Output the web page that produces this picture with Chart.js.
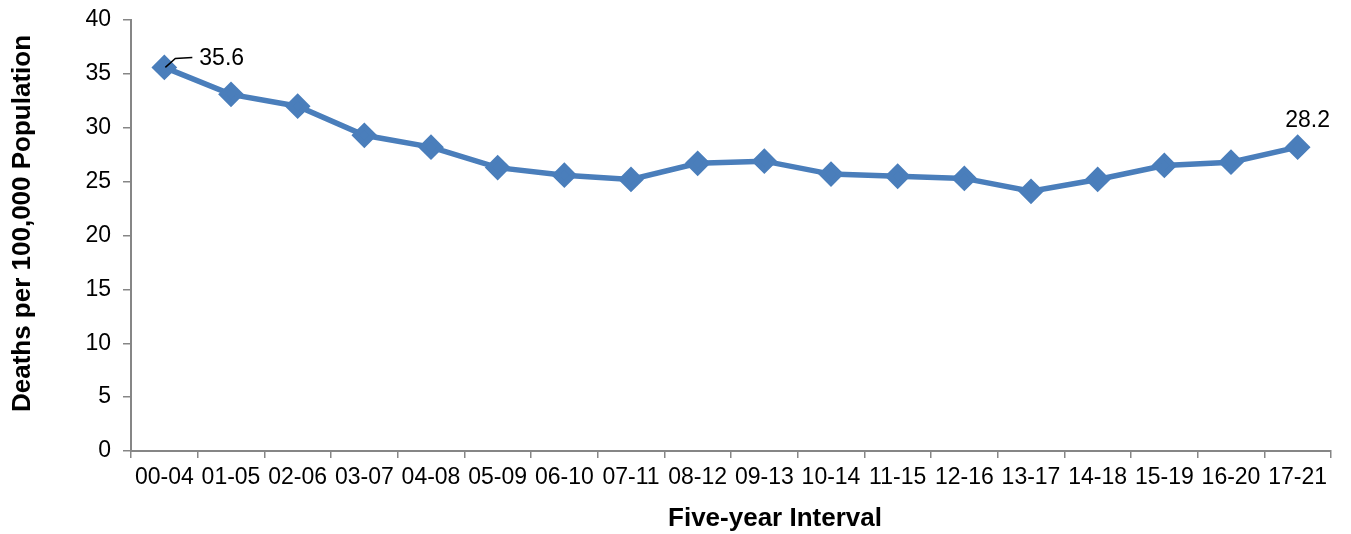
<!DOCTYPE html>
<html>
<head>
<meta charset="utf-8">
<script src="https://cdn.jsdelivr.net/npm/chart.js@4.4.1/dist/chart.umd.min.js"></script>
<style>
  html, body { margin: 0; padding: 0; background: #fff; }
  #wrap { width: 1351px; height: 534px; position: relative; }
</style>
</head>
<body>
<div id="wrap"><canvas id="chart"></canvas></div>
<script>
// data
const intervals = ["00-04", "01-05", "02-06", "03-07", "04-08", "05-09", "06-10", "07-11", "08-12",
  "09-13", "10-14", "11-15", "12-16", "13-17", "14-18", "15-19", "16-20", "17-21"];
const deathRates = [35.6, 33.1, 32.0, 29.3, 28.2, 26.3, 25.6, 25.2, 26.7,
  26.9, 25.7, 25.5, 25.3, 24.1, 25.2, 26.5, 26.8, 28.2];
const yTicks = [0, 5, 10, 15, 20, 25, 30, 35, 40];
const xTitle = "Five-year Interval";
const yTitle = "Deaths per 100,000 Population";

const FONT = "'Liberation Sans', Arial, sans-serif";
const AXIS_GREY = "#868686";

// value labels on first / last point + axis titles
const chartText = {
  id: "chartText",
  afterDatasetsDraw(chart) {
    const pts = chart.getDatasetMeta(0).data;
    const ctx = chart.ctx;
    const first = pts[0], last = pts[pts.length - 1];
    ctx.save();
    ctx.font = "23px " + FONT;
    ctx.fillStyle = "#000";
    ctx.textBaseline = "middle";

    // leader line for the first value
    ctx.strokeStyle = "#000";
    ctx.lineWidth = 1.5;
    ctx.beginPath();
    ctx.moveTo(first.x + 1, first.y);
    ctx.lineTo(first.x + 11, first.y - 9);
    ctx.lineTo(first.x + 28, first.y - 10);
    ctx.stroke();
    ctx.textAlign = "left";
    ctx.fillText(deathRates[0].toFixed(1), first.x + 35, first.y - 9);

    ctx.textAlign = "center";
    ctx.fillText(deathRates[deathRates.length - 1].toFixed(1), last.x + 10, last.y - 26);

    // axis titles (offset a bit from the plot centre, like the original)
    const area = chart.chartArea;
    ctx.font = "bold 26px " + FONT;
    ctx.fillText(xTitle, (area.left + area.right) / 2 + 44, 519);
    ctx.translate(23, (area.top + area.bottom) / 2 - 12);
    ctx.rotate(-Math.PI / 2);
    ctx.fillText(yTitle, 0, 0);
    ctx.restore();
  }
};

new Chart(document.getElementById("chart"), {
  type: "line",
  data: {
    labels: intervals,
    datasets: [{
      data: deathRates,
      borderColor: "#4a7ebb",
      backgroundColor: "#4a7ebb",
      borderWidth: 5.5,
      pointStyle: "rectRot",
      pointRadius: 9,
      pointHoverRadius: 9,
      tension: 0
    }]
  },
  options: {
    responsive: true,
    maintainAspectRatio: false,
    animation: false,
    layout: { padding: { top: 20, right: 20, left: 0, bottom: 0 } },
    plugins: { legend: { display: false }, tooltip: { enabled: false } },
    scales: {
      x: {
        offset: true,
        grid: { offset: true, drawOnChartArea: false, drawTicks: true, tickLength: 7, color: AXIS_GREY, lineWidth: 1.5 },
        border: { color: AXIS_GREY, width: 2 },
        ticks: { color: "#000", font: { family: FONT, size: 23 }, padding: 6, maxRotation: 0, autoSkip: false },
        afterFit(scale) { scale.height = 83; scale.paddingLeft = 0; scale.paddingRight = 0; }
      },
      y: {
        min: 0, max: 40,
        afterBuildTicks(scale) { scale.ticks = yTicks.map(v => ({ value: v })); },
        grid: { drawOnChartArea: false, drawTicks: true, tickLength: 8, color: AXIS_GREY, lineWidth: 1.5 },
        border: { color: AXIS_GREY, width: 2 },
        ticks: { color: "#000", font: { family: FONT, size: 23 }, padding: 12 },
        afterFit(scale) { scale.width = 131; scale.paddingTop = 0; scale.paddingBottom = 0; }
      }
    }
  },
  plugins: [chartText]
});
</script>
</body>
</html>
